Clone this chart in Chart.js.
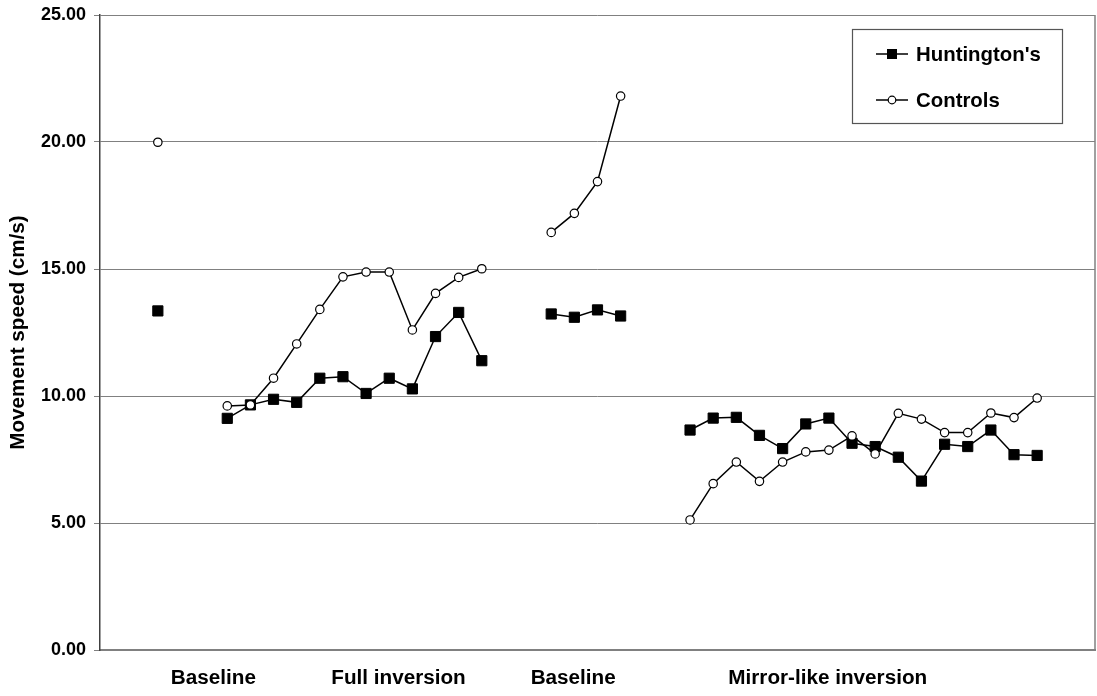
<!DOCTYPE html>
<html>
<head>
<meta charset="utf-8">
<script src="https://cdn.jsdelivr.net/npm/chart.js@4"></script>
<style>
  html, body { margin: 0; padding: 0; background: #fff; }
  #wrap { width: 1097px; height: 696px; }
</style>
</head>
<body>
<div id="wrap"><canvas id="speed"></canvas></div>
<script>
// phases of the experiment, in order
const phaseNames = ['Baseline', 'Full inversion', 'Baseline', 'Mirror-like inversion'];

// Huntington's, movement speed (cm/s) per trial
const huntBaseline1 = [13.35];
const huntFull = [9.12, 9.65, 9.87, 9.75, 10.70, 10.76, 10.10, 10.70, 10.28, 12.34, 13.29, 11.39];
const huntBaseline2 = [13.23, 13.10, 13.39, 13.15];
const huntMirror = [8.66, 9.13, 9.16, 8.45, 7.93, 8.90, 9.13, 8.14, 8.01, 7.59, 6.65, 8.10, 8.01, 8.66, 7.69, 7.66];

// Controls
const ctrlBaseline1 = [19.99];
const ctrlFull = [9.61, 9.65, 10.70, 12.05, 13.41, 14.69, 14.88, 14.88, 12.60, 14.04, 14.67, 15.01];
const ctrlBaseline2 = [16.44, 17.19, 18.44, 21.81];
const ctrlMirror = [5.12, 6.55, 7.40, 6.64, 7.40, 7.80, 7.87, 8.43, 7.72, 9.32, 9.09, 8.56, 8.56, 9.33, 9.15, 9.92];

// trial slots: 2 empty before, 2 empty between phases, 2 after (43 slots)
const leadSlots = 2;
const gapSlots = 2;
const totalSlots = 43;
// where the phase names sit on the slot axis
const phaseLabelAt = [4.4, 12.4, 19.95, 30.95];

function buildSeries(phases) {
    let pts = [];
    let slot = leadSlots;
    phases.forEach((vals, p) => {
        vals.forEach(v => { pts.push({x: slot, y: v}); slot++; });
        if (p < phases.length - 1) {
            pts.push({x: slot, y: null});
            slot += gapSlots;
        }
    });
    return pts;
}

const FONT = '"Liberation Sans", Arial, sans-serif';
Chart.defaults.font.family = FONT;
Chart.defaults.color = '#000';

const frameAndLegend = {
    id: 'frameAndLegend',
    beforeDatasetsDraw(chart) {
        const {ctx, chartArea: a} = chart;
        ctx.save();
        ctx.strokeStyle = '#808080';
        ctx.lineWidth = 1.5;
        ctx.beginPath();
        ctx.moveTo(a.right, a.top);
        ctx.lineTo(a.right, a.bottom);
        ctx.stroke();
        ctx.restore();
    },
    afterDraw(chart) {
        const {ctx, chartArea: a} = chart;
        const x0 = a.right - 243, y0 = a.top + 14, w = 210, h = 94;
        ctx.save();
        ctx.fillStyle = '#fff';
        ctx.fillRect(x0, y0, w, h);
        ctx.strokeStyle = '#555';
        ctx.lineWidth = 1.2;
        ctx.strokeRect(x0 + 0.5, y0 + 0.5, w, h);

        const rows = [
            {label: "Huntington's", y: y0 + 25, kind: 'rect'},
            {label: 'Controls', y: y0 + 71, kind: 'circle'}
        ];
        rows.forEach(r => {
            ctx.strokeStyle = '#000';
            ctx.lineWidth = 1.5;
            ctx.beginPath();
            ctx.moveTo(x0 + 24, r.y);
            ctx.lineTo(x0 + 56, r.y);
            ctx.stroke();
            if (r.kind === 'rect') {
                ctx.fillStyle = '#000';
                ctx.fillRect(x0 + 35, r.y - 5, 10, 10);
            } else {
                ctx.beginPath();
                ctx.arc(x0 + 40, r.y, 3.8, 0, Math.PI * 2);
                ctx.fillStyle = '#fff';
                ctx.fill();
                ctx.lineWidth = 1.2;
                ctx.stroke();
            }
            ctx.fillStyle = '#000';
            ctx.font = 'bold 20.4px ' + FONT;
            ctx.textBaseline = 'middle';
            ctx.textAlign = 'left';
            ctx.fillText(r.label, x0 + 64, r.y + 1);
        });
        ctx.restore();
    }
};

const ctx = document.getElementById('speed').getContext('2d');
const speedChart = new Chart(ctx, {
    type: 'line',
    data: {
        datasets: [
            {
                label: "Huntington's",
                data: buildSeries([huntBaseline1, huntFull, huntBaseline2, huntMirror]),
                borderColor: '#000',
                backgroundColor: '#000',
                borderWidth: 1.5,
                pointStyle: 'rect',
                pointRadius: 7.2,
                pointBorderWidth: 1,
                pointBackgroundColor: '#000',
                pointBorderColor: '#000',
                spanGaps: false,
                order: 2
            },
            {
                label: 'Controls',
                data: buildSeries([ctrlBaseline1, ctrlFull, ctrlBaseline2, ctrlMirror]),
                borderColor: '#000',
                backgroundColor: '#fff',
                borderWidth: 1.5,
                pointStyle: 'circle',
                pointRadius: 4.2,
                pointBorderWidth: 1.2,
                pointBackgroundColor: '#fff',
                pointBorderColor: '#000',
                spanGaps: false,
                order: 1
            }
        ]
    },
    options: {
        responsive: true,
        maintainAspectRatio: false,
        animation: false,
        layout: { autoPadding: false, padding: { top: 15, right: 2, left: 0, bottom: 0 } },
        plugins: {
            legend: { display: false },
            tooltip: { enabled: false }
        },
        scales: {
            x: {
                type: 'linear',
                min: -0.5,
                max: totalSlots - 0.5,
                afterBuildTicks(scale) {
                    scale.ticks = phaseLabelAt.map(v => ({value: v}));
                },
                afterFit(scale) {
                    scale.height = 46;
                    scale.paddingLeft = 0;
                    scale.paddingRight = 0;
                },
                ticks: {
                    autoSkip: false,
                    maxRotation: 0,
                    padding: 16,
                    color: '#000',
                    font: { size: 20.7, weight: 'bold' },
                    callback: (v, i) => phaseNames[i]
                },
                grid: { display: false, drawTicks: false },
                border: { color: '#808080', width: 2 }
            },
            y: {
                min: 0,
                max: 25,
                afterFit(scale) {
                    scale.width = 100;
                    scale.paddingTop = 0;
                    scale.paddingBottom = 0;
                },
                ticks: {
                    stepSize: 5,
                    padding: 8,
                    color: '#000',
                    font: { size: 18, weight: 'bold' },
                    callback: v => v.toFixed(2)
                },
                grid: { color: '#808080', lineWidth: 1, tickLength: 6, tickColor: '#808080' },
                border: { color: '#404040', width: 1.5 },
                title: {
                    display: true,
                    text: 'Movement speed (cm/s)',
                    color: '#000',
                    font: { size: 20.7, weight: 'bold' },
                    padding: { top: 6, bottom: 0 }
                }
            }
        }
    },
    plugins: [frameAndLegend]
});
</script>
</body>
</html>
